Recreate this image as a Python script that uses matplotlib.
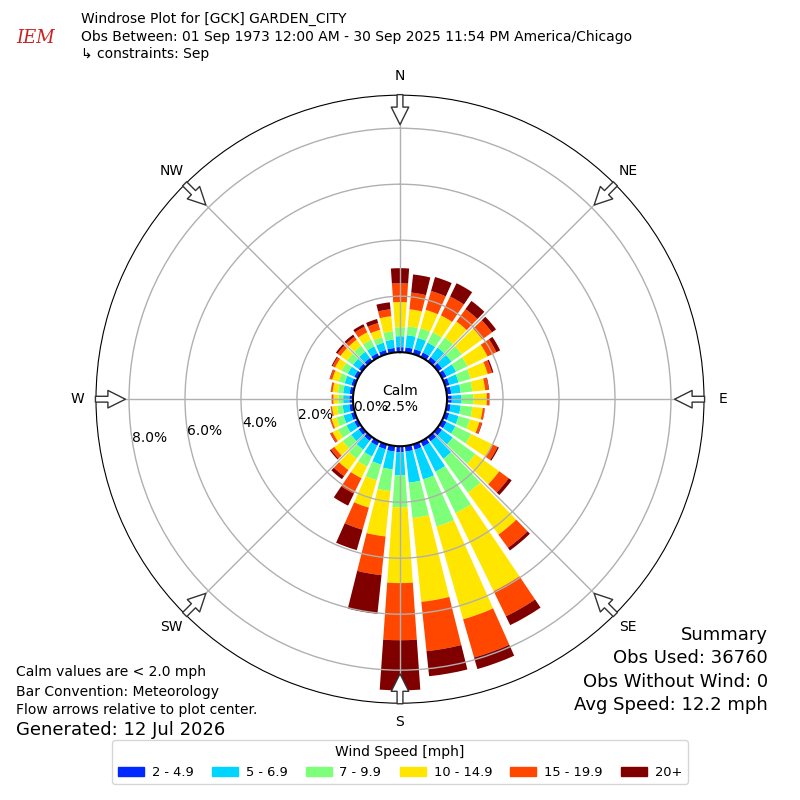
import numpy as np
import matplotlib
matplotlib.use("Agg")
import matplotlib.pyplot as plt
from matplotlib.patches import FancyArrowPatch, Patch

# Direction bins (degrees, meteorological) and percent of obs per speed bin.
directions = list(range(0, 360, 10))
speed_labels = ["2 - 4.9", "5 - 6.9", "7 - 9.9", "10 - 14.9", "15 - 19.9", "20+"]

spd_2_5 = [0.18, 0.18, 0.18, 0.18, 0.18, 0.18, 0.17, 0.16, 0.16, 0.17, 0.14, 0.15,
           0.17, 0.18, 0.18, 0.20, 0.20, 0.20, 0.22, 0.20, 0.18, 0.17, 0.16, 0.15,
           0.14, 0.14, 0.14, 0.13, 0.13, 0.13, 0.14, 0.14, 0.14, 0.15, 0.15, 0.16]
spd_5_7 = [0.39, 0.44, 0.42, 0.39, 0.42, 0.42, 0.38, 0.34, 0.34, 0.35, 0.36, 0.35,
           0.35, 0.47, 0.77, 1.00, 1.10, 1.12, 0.82, 0.64, 0.57, 0.43, 0.39, 0.33,
           0.31, 0.28, 0.24, 0.22, 0.23, 0.25, 0.26, 0.26, 0.28, 0.27, 0.27, 0.30]
spd_7_10 = [0.32, 0.32, 0.36, 0.41, 0.45, 0.45, 0.45, 0.45, 0.42, 0.42, 0.42, 0.42,
            0.63, 1.00, 1.50, 1.65, 1.75, 1.27, 1.14, 0.78, 0.58, 0.40, 0.40, 0.37,
            0.33, 0.26, 0.20, 0.17, 0.19, 0.22, 0.24, 0.26, 0.26, 0.26, 0.20, 0.30]
spd_10_15 = [0.90, 0.61, 0.68, 0.67, 0.70, 0.90, 0.80, 0.63, 0.46, 0.48, 0.37, 0.35,
             0.85, 1.05, 1.85, 3.10, 3.45, 3.01, 2.71, 1.63, 1.02, 0.46, 0.50, 0.37,
             0.22, 0.18, 0.18, 0.18, 0.19, 0.24, 0.26, 0.29, 0.27, 0.30, 0.28, 0.54]
spd_15_20 = [0.67, 0.60, 0.70, 0.75, 0.55, 0.43, 0.35, 0.16, 0.12, 0.09, 0.07, 0.09,
             0.20, 0.42, 0.58, 1.00, 1.42, 1.77, 2.04, 1.39, 0.82, 0.61, 0.27, 0.15,
             0.08, 0.05, 0.04, 0.05, 0.06, 0.08, 0.10, 0.13, 0.13, 0.22, 0.25, 0.25]
spd_20up = [0.54, 0.65, 0.52, 0.53, 0.36, 0.18, 0.15, 0.05, 0.02, 0.01, 0.01, 0.02,
            0.05, 0.13, 0.12, 0.35, 0.43, 0.90, 1.79, 1.39, 0.76, 0.48, 0.13, 0.05,
            0.02, 0.01, 0.01, 0.01, 0.01, 0.02, 0.04, 0.07, 0.09, 0.10, 0.15, 0.25]

calm_pct = 2.5
rings = [0, 2, 4, 6, 8]
compass = ["N", "NE", "E", "SE", "S", "SW", "W", "NW"]

plt.rcParams["font.family"] = ["DejaVu Sans"]

fig = plt.figure(figsize=(8, 8), dpi=100)
ax = fig.add_axes([0.12, 0.121, 0.76, 0.76], projection="polar")
ax.set_theta_zero_location("N")
ax.set_theta_direction(-1)

theta = np.radians(directions)
width = np.radians(8)
colors = [plt.cm.jet(i / 6.0) for i in range(1, 7)]

# Stack the speed bins outward from the calm circle.
bottom = np.zeros(len(directions))
for vals, col in zip([spd_2_5, spd_5_7, spd_7_10, spd_10_15, spd_15_20, spd_20up], colors):
    vals = np.array(vals)
    ax.bar(theta, vals, width=width, bottom=bottom, color=col, linewidth=0, zorder=1)
    bottom = bottom + vals

rmax = 9.18
ax.set_ylim(0, rmax)
ax.set_rorigin(-1.68)

ax.set_yticks(rings)
ax.set_yticklabels([])
for r in rings:
    ax.text(np.radians(262), r, "%.1f%%" % r, ha="left", va="center_baseline", fontsize=10)

ax.set_xticks(np.radians(np.arange(0, 360, 45)))
ax.set_xticklabels(compass, fontsize=10)
ax.tick_params(axis="x", pad=3)
ax.grid(True, color="#b0b0b0", linewidth=1)
ax.spines["inner"].set_linewidth(1.5)

# Flow arrows around the outside.
for ang in range(0, 360, 45):
    arr = FancyArrowPatch((np.radians(ang), rmax + 0.12), (np.radians(ang), rmax - 1.15),
                          arrowstyle="simple,head_length=0.9,head_width=0.9,tail_width=0.3",
                          mutation_scale=14, fc="white", ec="#333333", lw=1,
                          transform=ax.transData, clip_on=False, zorder=5)
    ax.add_patch(arr)

ax.text(0.5, 0.5, "Calm\n%.1f%%" % calm_pct, transform=ax.transAxes,
        ha="center", va="center", fontsize=10)

# Header
fig.text(0.101, 0.976, "Windrose Plot for [GCK] GARDEN_CITY", fontsize=10, va="center")
fig.text(0.101, 0.954, "Obs Between: 01 Sep 1973 12:00 AM - 30 Sep 2025 11:54 PM America/Chicago",
         fontsize=10, va="center")
fig.text(0.101, 0.933, "\u21b3 constraints: Sep", fontsize=10, va="center")
fig.text(0.02, 0.952, "IEM", fontsize=13, color="#cc2222", style="italic",
         family="DejaVu Serif", va="center")

# Footnotes
fig.text(0.02, 0.160, "Calm values are < 2.0 mph", fontsize=10, va="center")
fig.text(0.02, 0.135, "Bar Convention: Meteorology", fontsize=10, va="center")
fig.text(0.02, 0.112, "Flow arrows relative to plot center.", fontsize=10, va="center")
fig.text(0.02, 0.088, "Generated: 12 Jul 2026", fontsize=13, va="center")

fig.text(0.96, 0.206, "Summary", fontsize=13, ha="right", va="center")
fig.text(0.96, 0.177, "Obs Used: 36760", fontsize=13, ha="right", va="center")
fig.text(0.96, 0.148, "Obs Without Wind: 0", fontsize=13, ha="right", va="center")
fig.text(0.96, 0.119, "Avg Speed: 12.2 mph", fontsize=13, ha="right", va="center")

handles = [Patch(color=c) for c in colors]
fig.legend(handles, speed_labels, loc="lower center", bbox_to_anchor=(0.5, 0.012),
           ncol=6, title="Wind Speed [mph]", fontsize=9.4, title_fontsize=10,
           handletextpad=0.6, columnspacing=1.4)

fig.savefig("out.png", dpi=100)
